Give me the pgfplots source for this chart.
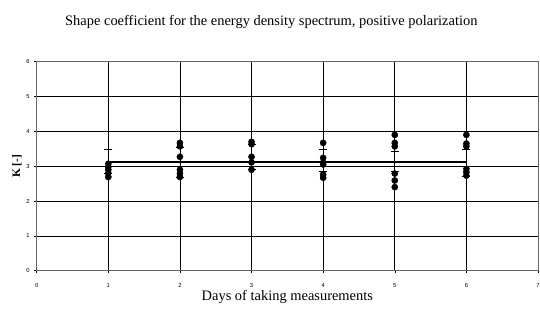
\documentclass[border=0pt]{standalone}
\usepackage{pgfplots}
\pgfplotsset{compat=1.18}
\usepackage{fontspec}
\setmainfont{Liberation Serif}
\newfontfamily\arialf{Liberation Sans}
\begin{document}
\begin{tikzpicture}
\path[use as bounding box] (-36.7bp,-40.3bp) rectangle (503.3bp,270.7bp);
\begin{axis}[
  at={(0,0)}, anchor=south west,
  scale only axis, width=501.3bp, height=209bp,
  xmin=0, xmax=7, ymin=0, ymax=6,
  xtick={0,...,7}, ytick={0,...,6},
  grid=major,
  major grid style={black, line width=0.6pt},
  axis line style={gray!80!black, line width=0.8pt},
  tick style={black, line width=0.5pt},
  tick align=outside, tick pos=left,
  major tick length=2.5bp,
  ticklabel style={font=\arialf\fontsize{5.8}{6}\selectfont},
  /pgf/number format/assume math mode=true,
  xticklabel style={inner sep=0.5bp, yshift=-9.5bp},
  yticklabel style={xshift=-1bp},
  xlabel={\fontsize{14.5}{16}\selectfont Days of taking measurements},
  xlabel style={at={(axis description cs:0.5,0)}, anchor=center, inner sep=0pt, yshift=-26bp},
  ylabel={\bfseries\fontsize{11.5}{13}\selectfont K [-]},
  ylabel style={at={(axis description cs:0,0.5)}, anchor=center, yshift=19.7bp},
  title={\fontsize{14.5}{16}\selectfont Shape coefficient for the energy density spectrum, positive polarization},
  title style={at={(axis description cs:0.468,1)}, anchor=center, yshift=34bp},
  clip=false,
]
% mean line
\addplot[black, line width=1.6pt, no marks] coordinates {(1,3.12) (6,3.12)};
% error caps
\addplot[only marks, mark=-, mark size=4bp, black, mark options={line width=0.6pt}] coordinates {
(1,3.48) (1,2.81)
(2,3.55) (2,2.69)
(3,3.62) (3,2.90)
(4,3.48) (4,2.86)
(5,3.43) (5,2.86)
(6,3.48) (6,2.71)
};
% measurements
\addplot[only marks, mark=*, mark size=3.1bp, black] coordinates {
(1,3.07) (1,2.98) (1,2.90) (1,2.80) (1,2.69)
(2,3.67) (2,3.57) (2,3.27) (2,2.90) (2,2.79) (2,2.69)
(3,3.70) (3,3.63) (3,3.27) (3,3.11) (3,2.90)
(4,3.67) (4,3.24) (4,3.10) (4,3.05) (4,2.76) (4,2.67)
(5,3.90) (5,3.67) (5,3.57) (5,2.79) (5,2.59) (5,2.40)
(6,3.90) (6,3.65) (6,3.57) (6,2.92) (6,2.83) (6,2.73)
};
\end{axis}
\end{tikzpicture}
\end{document}
